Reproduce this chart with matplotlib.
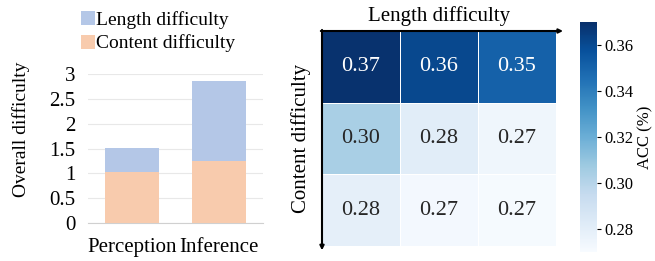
import numpy as np
import matplotlib
matplotlib.use("Agg")
import matplotlib.pyplot as plt
import seaborn as sns

plt.rcParams['font.family'] = ['Liberation Serif', 'DejaVu Serif']

# stacked bars
tasks = ['Perception', 'Inference']
content_diff = [1.03, 1.25]
length_diff = [0.48, 1.60]

# heatmap of accuracy
acc = np.array([[0.369, 0.361, 0.351],
                [0.304, 0.281, 0.274],
                [0.279, 0.272, 0.271]])
cbar_ticks = [0.28, 0.30, 0.32, 0.34, 0.36]

W, H = 655, 261
fig = plt.figure(figsize=(W / 100, H / 100), dpi=100)

def box(x0, y0, x1, y1):
    # pixel box (top-left origin) -> figure fraction
    return [x0 / W, 1 - y1 / H, (x1 - x0) / W, (y1 - y0) / H]

# ---- left: stacked bar chart
ax = fig.add_axes(box(88, 74, 263, 223))
x = np.arange(len(tasks))
ax.bar(x, content_diff, width=0.62, color='#F8CBAD', zorder=3, label='Content difficulty')
ax.bar(x, length_diff, width=0.62, bottom=content_diff, color='#B4C7E7', zorder=3,
       label='Length difficulty')
ax.set_xlim(-0.5, 1.5)
ax.set_ylim(0, 3)
ax.set_yticks([0, 0.5, 1, 1.5, 2, 2.5, 3])
ax.set_yticklabels(['0', '0.5', '1', '1.5', '2', '2.5', '3'])
ax.set_xticks(x)
ax.set_xticklabels(tasks)
ax.tick_params(axis='both', length=0, labelsize=15, pad=9)
ax.tick_params(axis='x', pad=11)
ax.grid(axis='y', color='#E8E8E8', lw=0.8, zorder=0)
for s in ['top', 'right', 'left']:
    ax.spines[s].set_visible(False)
ax.spines['bottom'].set_color('#D0D0D0')
ax.set_ylabel('Overall difficulty', fontsize=14)
ax.yaxis.set_label_coords(-0.33, 0.63)
h, l = ax.get_legend_handles_labels()
fig.legend(h[::-1], l[::-1], loc='upper left', bbox_to_anchor=(73 / W, 1 - 3 / H),
           frameon=False, fontsize=14, handlelength=0.75, handleheight=0.75,
           handletextpad=0.05, labelspacing=0.3, borderaxespad=0)

# ---- right: heatmap
hax = fig.add_axes(box(322, 31, 556, 246))
cax = fig.add_axes(box(580, 22, 597, 252))
sns.heatmap(acc, ax=hax, cbar_ax=cax, cmap='Blues', vmin=0.27, vmax=0.37,
            annot=True, fmt='.2f', annot_kws={'fontsize': 16},
            linewidths=0.6, linecolor='white', xticklabels=False, yticklabels=False)
cax.set_yticks(cbar_ticks)
cax.set_yticklabels(['%.2f' % t for t in cbar_ticks])
cax.tick_params(labelsize=12, length=3, width=0.8, pad=2)
cax.set_ylabel('ACC (%)', fontsize=12, labelpad=3)
hax.set_title('Length difficulty', fontsize=15, pad=7)
hax.set_ylabel('Content difficulty', fontsize=15, labelpad=8)
hax.annotate('', xy=(1.03, 1), xytext=(-0.005, 1), xycoords='axes fraction',
             arrowprops=dict(arrowstyle='-|>', color='black', lw=1.5,
                             mutation_scale=6, shrinkA=0, shrinkB=0))
hax.annotate('', xy=(0, -0.02), xytext=(0, 1.005), xycoords='axes fraction',
             arrowprops=dict(arrowstyle='-|>', color='black', lw=1.5,
                             mutation_scale=6, shrinkA=0, shrinkB=0))

fig.savefig('out.png', dpi=100)
